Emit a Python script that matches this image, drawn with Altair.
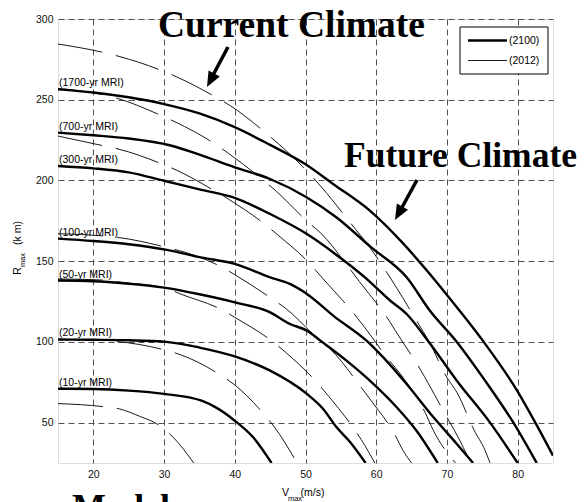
import altair as alt
import pandas as pd

# ---------------- data ----------------
mri_labels = ["(10-yr MRI)", "(20-yr MRI)", "(50-yr MRI)", "(100-yr MRI)",
              "(300-yr MRI)", "(700-yr MRI)", "(1700-yr MRI)"]

# 2100 curves (thick)
v2100_10 = [15, 20, 25, 30, 35.3, 37.5, 40, 42.6, 45.2]
r2100_10 = [71, 70.8, 69.8, 67.8, 63.6, 59, 51.2, 40.9, 25]
v2100_20 = [15, 20, 25, 30, 35, 40, 45, 50.2, 52.5, 54.4, 56.3, 58.5]
r2100_20 = [101.5, 101.3, 101, 100.2, 96.5, 91, 82.2, 67.8, 58.5, 47.1, 38, 25]
v2100_50 = [15, 20, 25, 30, 35, 40, 45, 47.8, 50.2, 52.1, 55.8, 59.1, 62.9, 65.7, 68.7]
r2100_50 = [138, 137.6, 136, 133.6, 129.5, 124.5, 118.3, 111.1, 107, 100.8, 88.4, 76, 59.5, 45, 25]
v2100_100 = [15, 20, 25, 30.4, 35, 40, 45, 47.8, 50.2, 54, 58.7, 61, 64.3, 68.1, 71.4, 73.7]
r2100_100 = [164, 162.5, 160.5, 157, 152.5, 148.3, 140, 135.9, 129.7, 116, 100.5, 90.4, 73.9, 53.3, 36.8, 25]
v2100_300 = [15, 20, 25, 30, 35, 39.8, 45, 50.2, 54.2, 58.4, 62, 64.3, 67.6, 71.4, 76.1, 80]
r2100_300 = [209, 207.5, 205, 199.8, 194.5, 189.5, 179.2, 166.8, 154.5, 140, 125.5, 117.3, 99, 76, 50, 25]
v2100_700 = [15, 20, 25, 30.8, 35, 40, 45, 50.2, 54.4, 59.3, 64.3, 67.6, 71.4, 75.4, 79.4, 82.7]
r2100_700 = [229.6, 228, 226, 221.8, 216, 208.1, 200.9, 189.5, 177.1, 158.5, 140, 119.3, 100, 76, 50, 25]
v2100_1700 = [15, 20, 25, 30, 35, 40, 45, 49.9, 53.9, 59.1, 63.8, 67.1, 70.2, 75.2, 79.9, 82.5, 85]
r2100_1700 = [256.4, 254.5, 251.5, 247.3, 241.5, 233, 222, 210.3, 197.8, 181.3, 161, 144.5, 128, 100, 70, 50, 29.6]

# 2012 curves (thin, dashed)
v2012_10 = [15, 21.4, 23.7, 26.5, 29.4, 31.3, 34.2]
r2012_10 = [61.8, 59.9, 58.5, 54, 48.1, 40.9, 25]
v2012_20 = [15, 21.4, 29.9, 32.3, 37.9, 39.8, 44.3, 45.7, 48.8]
r2012_20 = [101.5, 100.8, 95.2, 92.1, 79.7, 74, 54.3, 46.7, 25]
v2012_50 = [15, 21.4, 23.8, 29.9, 32.3, 38.2, 40, 45.5, 47.2, 51.8, 53.2, 57.2, 58.4, 59.8]
r2012_50 = [139, 138.3, 137, 133.8, 129.7, 119.8, 115.2, 99.7, 93.5, 74, 66.7, 44, 35.8, 25]
v2012_100 = [15, 23.5, 30.4, 32.2, 38.2, 40, 45.5, 47.3, 51.8, 53.5, 57.7, 59.1, 62.7, 63.8, 65]
r2012_100 = [167, 164.7, 158.5, 156.5, 146.2, 141.6, 126, 120.4, 101.8, 95.6, 72.9, 64.7, 42, 32.7, 25]
v2012_300 = [15, 21.4, 23.5, 29.7, 31.7, 36.7, 39.3, 44.5, 46.2, 50.2, 52.5, 56.7, 58.2,
             61.5, 63.4, 66.9, 68.1, 71.2]
r2012_300 = [227.5, 221.5, 219.5, 210.2, 206.5, 194.7, 187.9, 172, 165.8, 150.3, 139, 118.3, 110,
             90.4, 80.2, 56.4, 45, 25]
v2012_700 = [15, 23.3, 29.4, 31.7, 37.2, 39.1, 44, 45.9, 50.4, 52.3, 55.4, 57.6, 62, 62.7,
             66.2, 67.4, 70.4, 71.6, 72.3, 73.4]
r2012_700 = [257, 251, 240.6, 236, 222.6, 216.8, 200.3, 193.2, 174, 166.8, 150.3, 137.5, 112, 107,
             83.2, 74, 50.2, 40.9, 34.7, 25]
v2012_1700 = [15, 21.4, 23.5, 29.7, 31.7, 37.4, 39.3, 44.5, 46.2, 50.6, 52.3, 56.3, 59.1, 61.5,
              62.7, 66, 67.4, 70, 71.4, 74, 75.2, 76.1]
r2012_1700 = [284.5, 279.3, 277, 268, 264.3, 251.4, 246.5, 229, 222.6, 204, 195.7, 174, 158.5, 143,
              134.8, 111, 100.8, 78, 68.8, 44, 34.7, 25]

x_ticks = [20, 30, 40, 50, 60, 70, 80]
y_ticks = [50, 100, 150, 200, 250, 300]
legend_labels = ["(2100)", "(2012)"]

# ---------------- build tables ----------------
thick = [(v2100_10, r2100_10), (v2100_20, r2100_20), (v2100_50, r2100_50),
         (v2100_100, r2100_100), (v2100_300, r2100_300), (v2100_700, r2100_700),
         (v2100_1700, r2100_1700)]
thin = [(v2012_10, r2012_10), (v2012_20, r2012_20), (v2012_50, r2012_50),
        (v2012_100, r2012_100), (v2012_300, r2012_300), (v2012_700, r2012_700),
        (v2012_1700, r2012_1700)]

rows = []
for lab, (vs, rs) in zip(mri_labels, thick):
    for i, (v, r) in enumerate(zip(vs, rs)):
        rows.append({"V": v, "R": r, "series": "2100 " + lab, "i": i})
df_thick = pd.DataFrame(rows)
rows = []
for lab, (vs, rs) in zip(mri_labels, thin):
    for i, (v, r) in enumerate(zip(vs, rs)):
        rows.append({"V": v, "R": r, "series": "2012 " + lab, "i": i})
df_thin = pd.DataFrame(rows)

df_lab = pd.DataFrame({"V": [vs[0] for vs, rs in thick],
                       "R": [rs[0] for vs, rs in thick],
                       "label": mri_labels})

W, H = 495, 444
xs = alt.Scale(domain=[15, 85], nice=False, zero=False)
ys = alt.Scale(domain=[25, 300], nice=False, zero=False)

X = alt.X("V:Q", scale=xs,
          axis=alt.Axis(values=x_ticks, title=None, grid=True, ticks=False, domain=False,
                        labelPadding=6, gridDash=[6, 4], gridColor="#505050", gridOpacity=1,
                        labelFont="Liberation Sans", labelFontSize=10.5, labelColor="#111"))
Y = alt.Y("R:Q", scale=ys,
          axis=alt.Axis(values=y_ticks, title=None, grid=True, ticks=False, domain=False,
                        labelPadding=5, gridDash=[6, 4], gridColor="#505050", gridOpacity=1,
                        labelFont="Liberation Sans", labelFontSize=10.5, labelColor="#111"))

base_thick = alt.Chart(df_thick).mark_line(color="black", strokeWidth=2.4, clip=True,
                                           interpolate="monotone").encode(
    x=X, y=Y, detail="series:N", order="i:Q")
base_thin = alt.Chart(df_thin).mark_line(color="black", strokeWidth=0.9, strokeDash=[45, 14],
                                         clip=True, interpolate="monotone").encode(
    x=alt.X("V:Q", scale=xs), y=alt.Y("R:Q", scale=ys), detail="series:N", order="i:Q")

labels = alt.Chart(df_lab).mark_text(align="left", baseline="bottom", dx=1, dy=-1,
                                     font="Liberation Sans", fontSize=10.5, color="black").encode(
    x=alt.X("V:Q", scale=xs), y=alt.Y("R:Q", scale=ys), text="label:N")

def txt(s, x, y, size, font="Liberation Sans", weight="normal", angle=0, align="center",
        baseline="middle"):
    d = pd.DataFrame({"t": [s]})
    kw = dict(align=align, baseline=baseline, font=font, fontSize=size, fontWeight=weight,
              color="black")
    if angle:
        kw["angle"] = angle
    return alt.Chart(d).mark_text(**kw).encode(x=alt.value(x), y=alt.value(y), text="t:N")

# Big annotations
ann = [
    txt("Current Climate", 100, 18, 37.5, font="Liberation Serif", weight="bold", align="left",
        baseline="alphabetic"),
    txt("Future Climate", 286, 148, 35.5, font="Liberation Serif", weight="bold", align="left",
        baseline="alphabetic"),
    txt("Model", 14, 500, 36, font="Liberation Serif", weight="bold", align="left",
        baseline="alphabetic"),
]

# Arrows
def arrow(x1, y1, x2, y2, tipx, tipy, ang):
    shaft = alt.Chart(pd.DataFrame({"a": [0]})).mark_rule(color="black", strokeWidth=3.5).encode(
        x=alt.value(x1), y=alt.value(y1), x2=alt.value(x2), y2=alt.value(y2))
    head = alt.Chart(pd.DataFrame({"a": [0]})).mark_point(
        shape="M0,0L-0.5,1.2L0.5,1.2Z", filled=True, color="black", opacity=1, size=650,
        angle=ang).encode(x=alt.value(tipx), y=alt.value(tipy))
    return [shaft, head]

arrows = arrow(170, 28, 154, 58, 149, 68, 208) + arrow(359, 161, 342, 192, 337, 201, 209)

# Legend
leg_box = alt.Chart(pd.DataFrame({"a": [0]})).mark_rect(fill="white", stroke="black",
                                                         strokeWidth=1).encode(
    x=alt.value(402), x2=alt.value(490), y=alt.value(8), y2=alt.value(55))
leg_l1 = alt.Chart(pd.DataFrame({"a": [0]})).mark_rule(color="black", strokeWidth=2.4).encode(
    x=alt.value(410), x2=alt.value(449), y=alt.value(21.5))
leg_l2 = alt.Chart(pd.DataFrame({"a": [0]})).mark_rule(color="black", strokeWidth=0.9).encode(
    x=alt.value(410), x2=alt.value(449), y=alt.value(41.5))
leg_t1 = txt(legend_labels[0], 451, 21.5, 10.5, align="left")
leg_t2 = txt(legend_labels[1], 451, 41.5, 10.5, align="left")

# Axis titles (with subscripts)
ytitle = [
    txt("R", -40, 252, 10.5, angle=270),
    txt("max", -35, 241, 7.5, angle=270),
    txt("(k m)", -40, 214, 10.5, angle=270),
]
xtitle = [
    txt("V", 227.5, 474, 10.5),
    txt("max", 237, 480, 7.5),
    txt("(m/s)", 254.5, 473.5, 10.5),
]

chart = alt.layer(base_thin, base_thick, labels, *ann, *arrows,
                  leg_box, leg_l1, leg_l2, leg_t1, leg_t2, *ytitle, *xtitle).properties(
    width=W, height=H,
    autosize=alt.AutoSizeParams(type="none"),
    padding={"left": 50, "top": 11, "right": 27, "bottom": 39},
).configure_view(stroke="black", strokeWidth=1.2).configure(background="white")

chart.save("out.html", embed_options={"renderer": "svg", "actions": False})
